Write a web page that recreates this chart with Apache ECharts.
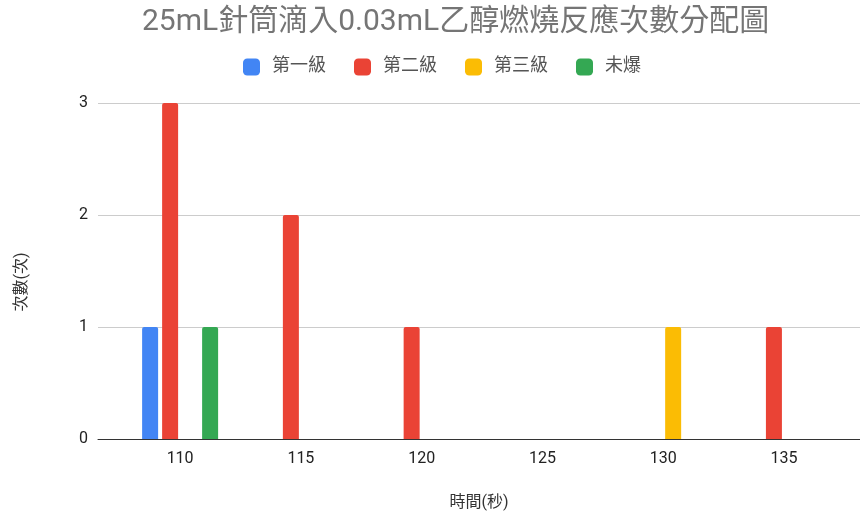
<!DOCTYPE html>
<html>
<head>
<meta charset="utf-8">
<script src="https://cdn.jsdelivr.net/npm/echarts@6/dist/echarts.min.js"></script>
<style>
html,body{margin:0;padding:0;background:#fff;}
#chart{width:860px;height:516px;}
</style>
</head>
<body>
<div id="chart"></div>
<script>
const titleText = '25mL針筒滴入0.03mL乙醇燃燒反應次數分配圖';
const xValues = [110, 115, 120, 125, 130, 135];
const seriesNames = ['第一級', '第二級', '第三級', '未爆'];
const level1 = [1, 0, 0, 0, 0, 0];
const level2 = [3, 2, 1, 0, 0, 1];
const level3 = [0, 0, 0, 0, 1, 0];
const noBlast = [1, 0, 0, 0, 0, 0];
const xTicks = [110, 115, 120, 125, 130, 135];
const yTicks = [0, 1, 2, 3];
const colors = ['#4285F4', '#EA4335', '#FBBC04', '#34A853'];

const seriesValues = [level1, level2, level3, noBlast];
const chart = echarts.init(document.getElementById('chart'));
const font = 'Roboto, "Noto Sans CJK TC", sans-serif';

chart.setOption({
  animation: false,
  backgroundColor: '#ffffff',
  title: {
    text: titleText,
    left: 137,
    top: 3,
    textStyle: { fontSize: 30, fontWeight: 'normal', color: '#757575', fontFamily: font }
  },
  legend: {
    top: 53,
    left: 238,
    itemWidth: 17,
    itemHeight: 17,
    itemGap: 28,
    icon: 'roundRect',
    textStyle: { fontSize: 18, color: '#555555', fontFamily: font, padding: [0, 0, 0, 7] },
    data: seriesNames
  },
  grid: { left: 98, right: 0, top: 103, bottom: 75, containLabel: false },
  xAxis: {
    type: 'value',
    min: 106.6,
    max: 138.15,
    name: '時間(秒)',
    nameLocation: 'middle',
    nameGap: 56,
    nameTextStyle: { fontSize: 16, color: '#333333', fontFamily: font },
    axisLine: { show: true, lineStyle: { color: '#333333', width: 1 } },
    axisTick: { show: false },
    splitLine: { show: false },
    axisLabel: { customValues: xTicks, fontSize: 16, color: '#222222', fontFamily: font, margin: 12 }
  },
  yAxis: {
    type: 'value',
    min: yTicks[0],
    max: yTicks[yTicks.length - 1],
    interval: 1,
    name: '次數(次)',
    nameLocation: 'middle',
    nameGap: 68,
    nameTextStyle: { fontSize: 16, color: '#333333', fontFamily: font, padding: [0, 22, 0, 0] },
    axisLine: { show: false },
    axisTick: { show: false },
    splitLine: { lineStyle: { color: '#cccccc', width: 1 } },
    axisLabel: { fontSize: 16, color: '#222222', fontFamily: font, margin: 10 }
  },
  series: seriesNames.map((name, i) => ({
    name: name,
    type: 'bar',
    barWidth: 16,
    barGap: '25%',
    itemStyle: { color: colors[i], borderRadius: [2, 2, 0, 0] },
    data: xValues.map((x, j) => [x, seriesValues[i][j]])
  }))
});
</script>
</body>
</html>
